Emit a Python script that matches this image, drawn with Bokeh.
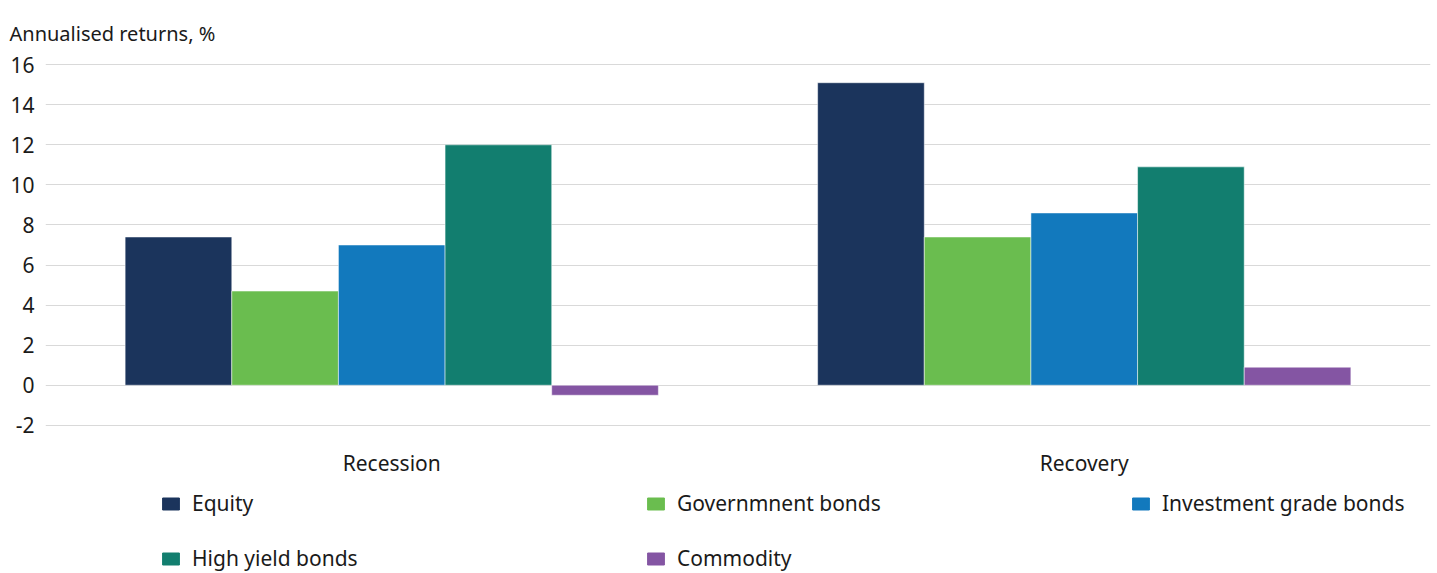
from bokeh.plotting import figure
from bokeh.layouts import column
from bokeh.models import ColumnDataSource, FactorRange, Range1d, FixedTicker, Legend, LegendItem
from bokeh.transform import dodge
from bokeh.embed import file_html
from bokeh.resources import INLINE

phases = ["Recession", "Recovery"]
series_names = ["Equity", "Governmnent bonds", "Investment grade bonds", "High yield bonds", "Commodity"]
equity = [7.4, 15.1]
government_bonds = [4.7, 7.4]
investment_grade_bonds = [7.0, 8.6]
high_yield_bonds = [12.0, 10.9]
commodity = [-0.5, 0.9]
y_ticks = [-2, 0, 2, 4, 6, 8, 10, 12, 14, 16]
colors = ["#1b345c", "#6abd4f", "#1279bd", "#127e6f", "#8455a3"]

FONT = "Noto Sans"
TXT = "#1a1a1a"
FS = "21px"

source = ColumnDataSource(dict(
    phase=phases,
    equity=equity,
    government_bonds=government_bonds,
    investment_grade_bonds=investment_grade_bonds,
    high_yield_bonds=high_yield_bonds,
    commodity=commodity,
))
cols = ["equity", "government_bonds", "investment_grade_bonds", "high_yield_bonds", "commodity"]

# ---- main chart ----
p = figure(width=1437, height=485, x_range=FactorRange(*phases), y_range=Range1d(-2.06, 16.06),
           output_backend="svg", toolbar_location=None,
           min_border_left=45, min_border_right=7, min_border_top=63, min_border_bottom=59)

bw = 0.154
offsets = [-2 * bw, -bw, 0, bw, 2 * bw]
for col, off, c in zip(cols, offsets, colors):
    p.vbar(x=dodge("phase", off, range=p.x_range), top=col, bottom=0, width=bw, source=source,
           fill_color=c, line_color="white", line_width=0.5)

p.title.text = "Annualised returns, %"
p.title.text_font = FONT
p.title.text_font_size = "20px"
p.title.text_font_style = "normal"
p.title.text_color = TXT
p.title.align = "left"
p.title.vertical_align = "top"
p.title.offset = -36
p.title.standoff = 30

p.outline_line_color = None
p.xgrid.grid_line_color = None
p.ygrid.grid_line_color = "#d9d9d9"
p.ygrid.grid_line_width = 1
p.yaxis.ticker = FixedTicker(ticks=y_ticks)
p.yaxis.major_label_overrides = {-2: "-2"}
p.yaxis.axis_line_color = None
p.yaxis.major_tick_line_color = None
p.yaxis.minor_tick_line_color = None
p.yaxis.major_tick_out = 0
p.yaxis.major_tick_in = 0
p.yaxis.major_label_text_font = FONT
p.yaxis.major_label_text_font_size = FS
p.yaxis.major_label_text_color = TXT
p.yaxis.major_label_standoff = 11

p.xaxis.axis_line_color = None
p.xaxis.major_tick_line_color = None
p.xaxis.minor_tick_line_color = None
p.xaxis.major_tick_out = 0
p.xaxis.major_tick_in = 0
p.xaxis.major_label_text_font = FONT
p.xaxis.major_label_text_font_size = FS
p.xaxis.major_label_text_color = TXT
p.xaxis.major_label_standoff = 22

# ---- legend strip (its bars lie outside its visible range; only the legend shows) ----
lp = figure(width=1437, height=88, x_range=FactorRange(*phases), y_range=Range1d(100, 101),
            x_axis_type=None, y_axis_type=None, output_backend="svg", toolbar_location=None,
            min_border_left=0, min_border_right=0, min_border_top=0, min_border_bottom=0)
lp.outline_line_color = None
lp.grid.visible = False

items = []
for name, col, c in zip(series_names, cols, colors):
    r = lp.vbar(x="phase", top=col, bottom=0, width=0.1, source=source, fill_color=c, line_color=c)
    items.append(LegendItem(label=name, renderers=[r]))

for row_items, ypos in ((items[:3], 56), (items[3:], 1)):
    lg = Legend(items=row_items, orientation="horizontal",
                glyph_width=21, glyph_height=15, label_standoff=11,
                label_width=260, label_height=15, spacing=193,
                label_text_font=FONT, label_text_font_size=FS, label_text_color=TXT,
                border_line_color=None, background_fill_alpha=0,
                margin=0, padding=0, location=(115, ypos))
    lp.add_layout(lg, "center")

open("out.html", "w").write(file_html(column(p, lp), INLINE))
